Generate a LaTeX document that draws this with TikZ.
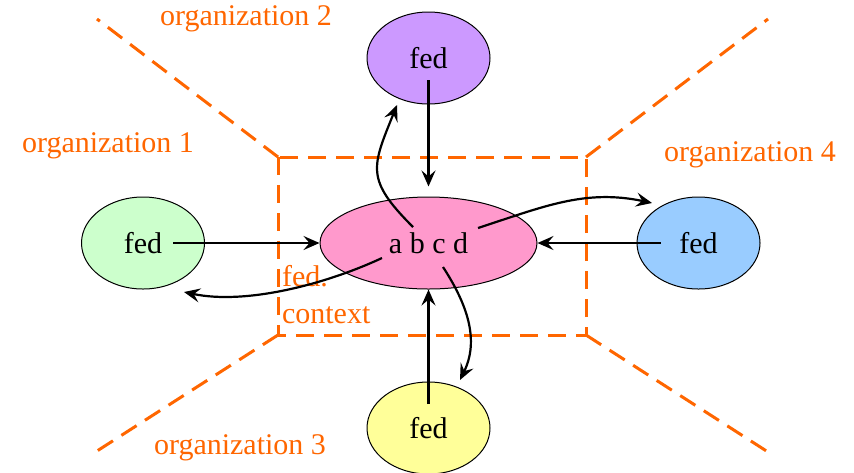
\documentclass[tikz,border=0pt]{standalone}
\usepackage{fontspec}
\setmainfont{Liberation Serif}
\usepackage{tikz}
\usetikzlibrary{arrows.meta}
\usetikzlibrary{shapes.geometric}

\definecolor{orgorange}{RGB}{255,102,0}
\definecolor{ctxpink}{RGB}{255,153,204}
\definecolor{fedpurple}{RGB}{204,153,255}
\definecolor{fedgreen}{RGB}{204,255,204}
\definecolor{fedblue}{RGB}{153,204,255}
\definecolor{fedyellow}{RGB}{255,255,153}

\begin{document}
\begin{tikzpicture}[x=0.5pt, y=0.5pt, font=\fontsize{15}{18.5}\selectfont,
    fed/.style={ellipse, draw, line width=0.5pt, minimum width=61.5pt, minimum height=46pt, inner sep=0pt},
    arr/.style={-{Stealth[length=8pt,width=7pt,inset=3pt]}, line width=1.1pt},
    orgline/.style={orgorange, line width=1.5pt, dash pattern=on 9pt off 5pt},
    orglabel/.style={text=orgorange}]
    \useasboundingbox (0,0) rectangle (854,-472);
    % borders between the organizations
    \draw[orgline] (278,-157) rectangle (586,-335);
    \draw[orgline] (278,-157) -- (97,-19);
    \draw[orgline] (586,-157) -- (768,-19);
    \draw[orgline] (278,-335) -- (97,-451);
    \draw[orgline] (586,-335) -- (768,-452);
    \node[orglabel] (lab1) at (108,-146) {organization 1};
    \node[orglabel] (lab2) at (246,-19) {organization 2};
    \node[orglabel] (lab3) at (240,-448) {organization 3};
    \node[orglabel] (lab4) at (750,-155) {organization 4};
    \node[orglabel, align=left, anchor=west] (ctxlab) at (275,-295) {fed.\\context};
    % the nodes
    \node[fed, fill=ctxpink, minimum width=108.5pt] (ctx) at (428.5,-243) {a b c d};
    \node[fed, fill=fedgreen] (org1) at (143,-243) {fed};
    \node[fed, fill=fedpurple] (org2) at (428.5,-58) {fed};
    \node[fed, fill=fedyellow] (org3) at (428.5,-428) {fed};
    \node[fed, fill=fedblue] (org4) at (698.5,-243) {fed};
    % incoming
    \draw[arr] ([xshift=15pt]org1.center) -- (ctx.west);
    \draw[arr] ([xshift=-19pt]org4.center) -- (ctx.east);
    \draw[arr] ([yshift=-11pt]org2.center) -- ([yshift=5pt]ctx.north);
    \draw[arr] ([yshift=12pt]org3.center) -- (ctx.south);
    % outgoing
    \coordinate (fromA) at (413,-227);
    \coordinate (fromB) at (382,-258);
    \coordinate (fromC) at (443,-267);
    \coordinate (fromD) at (478,-228);
    \coordinate (toOrg1) at (184,-292);
    \coordinate (toOrg2) at (397,-105);
    \coordinate (toOrg3) at (460,-380);
    \coordinate (toOrg4) at (652,-203);
    \draw[arr] (fromA) to[out=135, in=-112, looseness=1.4] (toOrg2);
    \draw[arr] (fromD) to[out=18, in=168] (toOrg4);
    \draw[arr] (fromB) to[out=205, in=-12, looseness=0.8] (toOrg1);
    \draw[arr] (fromC) to[out=-57, in=64] (toOrg3);
\end{tikzpicture}
\end{document}
